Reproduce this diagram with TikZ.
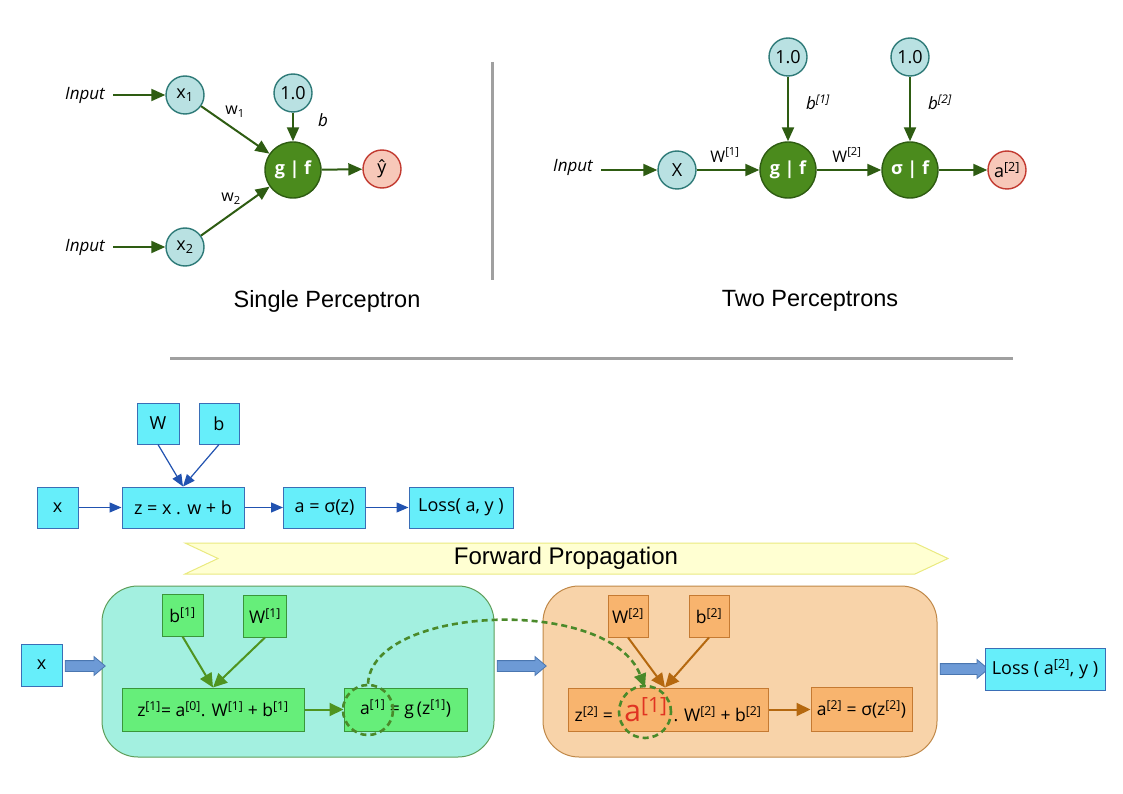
\documentclass[tikz,border=0pt]{standalone}
\usepackage{fontspec}
\usetikzlibrary{arrows.meta,shapes.arrows}
\setmainfont{Open Sans}
\newfontfamily\titlefont{Liberation Sans}
\newcommand{\spr}[1]{\textsuperscript{#1}}
\newcommand{\sbr}[1]{\textsubscript{#1}}
\newcommand{\fs}[1]{\fontsize{#1}{#1}\selectfont}

\definecolor{tealf}{HTML}{B9E1E2}
\definecolor{tealb}{HTML}{2E7A78}
\definecolor{redf}{HTML}{F7C8B9}
\definecolor{redb}{HTML}{C23A30}
\definecolor{gmid}{HTML}{4B8B1D}
\definecolor{gdark}{HTML}{2E5C12}
\definecolor{sepgray}{HTML}{A0A0A0}
\definecolor{cyanf}{HTML}{66EEFA}
\definecolor{cyanb}{HTML}{3A6EB6}
\definecolor{blarr}{HTML}{2152B0}
\definecolor{aquaf}{HTML}{A3F0E0}
\definecolor{aquab}{HTML}{5E9E5A}
\definecolor{lgreenf}{HTML}{66EE7A}
\definecolor{lgreenb}{HTML}{3A963A}
\definecolor{garrc}{HTML}{4F9420}
\definecolor{peachf}{HTML}{F8D3A9}
\definecolor{peachb}{HTML}{C08848}
\definecolor{orangef}{HTML}{F8B46E}
\definecolor{orangeb}{HTML}{C57A32}
\definecolor{oarrc}{HTML}{B5680F}
\definecolor{fatf}{HTML}{6D9AD6}
\definecolor{fatb}{HTML}{4A76B0}
\definecolor{dashg}{HTML}{4A8A2A}
\definecolor{reda}{HTML}{E03322}
\definecolor{yelf}{HTML}{FFFFD2}
\definecolor{yelb}{HTML}{EAEA80}

\tikzset{
  incirc/.style={circle, draw=tealb, fill=tealf, line width=1.4pt, minimum size=38pt, inner sep=0pt, font=\fs{18}},
  outcirc/.style={incirc, draw=redb, fill=redf},
  bigcirc/.style={circle, draw=gdark, fill=gmid, line width=1.4pt, minimum size=56pt, inner sep=0pt, text=white, font=\bfseries\fs{18}},
  netarr/.style={draw=gdark, line width=2pt, -{Triangle[length=14pt,width=12pt]}},
  inlabel/.style={font=\itshape\fs{17}},
  wlabel/.style={font=\fs{16}},
  title/.style={font=\titlefont\fs{23.5}},
  cbox/.style={draw=cyanb, fill=cyanf, line width=1pt, minimum height=41pt, inner sep=0pt, font=\fs{18}},
  barr/.style={draw=blarr, line width=1.2pt, -{Triangle[length=12pt,width=10pt]}},
  gbox/.style={draw=lgreenb, fill=lgreenf, line width=1pt, inner sep=0pt, font=\fs{17.5}},
  obox/.style={draw=orangeb, fill=orangef, line width=1pt, inner sep=0pt, font=\fs{17.5}},
  garr/.style={draw=garrc, line width=2pt, -{Triangle[length=14pt,width=13pt]}},
  oarr/.style={draw=oarrc, line width=2pt, -{Triangle[length=14pt,width=13pt]}},
  fatarrow/.style={single arrow, draw=fatb, fill=fatf, line width=0.8pt, inner xsep=0pt, inner ysep=5pt, single arrow head extend=4pt, single arrow tip angle=80},
  dashring/.style={circle, draw=dashg, line width=2.6pt, dash pattern=on 6pt off 4pt, inner sep=0pt},
}

\begin{document}
\begin{tikzpicture}[x=1pt,y=-1pt]
\useasboundingbox[fill=white] (0,0) rectangle (1123,794);

% ---------- single perceptron ----------
\node[inlabel] (in1) at (85,95) {Input};
\node[inlabel] (in2) at (85,247) {Input};
\node[incirc] (x1) at (185,95) {x\sbr{1}};
\node[incirc] (x2) at (185,247) {x\sbr{2}};
\node[incirc] (one) at (293,93) {1.0};
\node[bigcirc] (g) at (293,170) {g | f};
\node[outcirc] (yh) at (382,169) {ŷ};
\draw[netarr] (in1.east) ++(5,0) -- (x1.west);
\draw[netarr] (in2.east) ++(5,0) -- (x2.west);
\draw[netarr] (x1) -- (g);
\draw[netarr] (x2) -- (g);
\draw[netarr] (one) -- (g);
\draw[netarr] (g) -- (yh);
\node[wlabel] (lw1) at (235,112) {w\sbr{1}};
\node[wlabel] (lw2) at (231,199) {w\sbr{2}};
\node[inlabel] (lb) at (323,120) {b};

% separators
\draw[sepgray, line width=3pt] (492,62) -- (492,280);
\draw[sepgray, line width=3pt] (170,358) -- (1013,358);

% ---------- two perceptrons ----------
\node[inlabel] (in3) at (573,167) {Input};
\node[incirc] (X) at (677,170) {X};
\node[bigcirc] (g2) at (788,170) {g | f};
\node[bigcirc] (s2) at (910,170) {σ | f};
\node[outcirc] (a2c) at (1007,170) {a\spr{[2]}};
\node[incirc] (one1) at (788,57) {1.0};
\node[incirc] (one2) at (910,57) {1.0};
\draw[netarr] (in3.east |- X.west) ++(5,0) -- (X.west);
\draw[netarr] (X) -- (g2);
\draw[netarr] (g2) -- (s2);
\draw[netarr] (s2) -- (a2c);
\draw[netarr] (one1) -- (g2);
\draw[netarr] (one2) -- (s2);
\node[wlabel] (lW1) at (725,155) {W\spr{[1]}};
\node[wlabel] (lW2) at (847,155) {W\spr{[2]}};
\node[inlabel] (lb1) at (818,102) {b\spr{[1]}};
\node[inlabel] (lb2) at (940,102) {b\spr{[2]}};

\node[title] (t1) at (327,301) {Single Perceptron};
\node[title] (t2) at (810,301) {Two Perceptrons};

% ---------- computation graph ----------
\node[cbox, minimum width=42pt] (Wb) at (158,423.5) {W};
\node[cbox, minimum width=40pt] (bb) at (219,423.5) {b};
\node[cbox, minimum width=41pt] (xb) at (57.5,507.5) {x};
\node[cbox, minimum width=122pt] (zb) at (183,507.5) {z = x . w + b};
\node[cbox, minimum width=82pt] (ab) at (324.5,507.5) {a = σ(z)};
\node[cbox, minimum width=104pt] (lb0) at (461,507.5) {Loss( a, y )};
\draw[barr] (Wb.south) -- (zb.north);
\draw[barr] (bb.south) -- (zb.north);
\draw[barr] (xb) -- (zb);
\draw[barr] (zb) -- (ab);
\draw[barr] (ab) -- (lb0);

% forward propagation banner
\draw[draw=yelb, fill=yelf, line width=1pt] (185,543) -- (915,543) -- (948,558.5) -- (915,574) -- (185,574) -- (218,558.5) -- cycle;
\node[font=\titlefont\fs{24}] (fp) at (566,558) {Forward Propagation};

% ---------- two layers ----------
\node[draw=aquab, fill=aquaf, line width=1pt, rounded corners=36pt, minimum width=392pt, minimum height=171pt] (L1) at (298,671.5) {};
\node[draw=peachb, fill=peachf, line width=1pt, rounded corners=36pt, minimum width=394pt, minimum height=171pt] (L2) at (740,671.5) {};

\node[cbox, minimum width=41pt, minimum height=42pt] (xb2) at (41.5,665) {x};
\node[fatarrow, minimum height=40pt] (fa1) at (82,666) {};
\node[fatarrow, minimum height=49pt] (fa2) at (518.5,666) {};
\node[fatarrow, minimum height=48pt] (fa3) at (961,669) {};
\node[cbox, minimum width=120pt, minimum height=42pt] (loss2) at (1045,669) {Loss ( a\spr{[2]}, y )};

\node[gbox, minimum width=41pt, minimum height=42pt] (b1) at (182.5,615) {b\spr{[1]}};
\node[gbox, minimum width=43pt, minimum height=42pt] (W1) at (265,616) {W\spr{[1]}};
\node[gbox, minimum width=182pt, minimum height=43pt] (z1) at (213,709.5) {z\spr{[1]}= a\spr{[0]}. W\spr{[1]} + b\spr{[1]}};
\node[gbox, minimum width=123pt, minimum height=43pt] (a1) at (405.5,709.5) {a\spr{[1]} = g\,(z\spr{[1]})};
\draw[garr] (b1.south) -- (z1.north);
\draw[garr] (W1.south) -- (z1.north);
\draw[garr] (z1) -- (a1);

\node[obox, minimum width=40pt, minimum height=42pt] (W2) at (628,616) {W\spr{[2]}};
\node[obox, minimum width=40pt, minimum height=42pt] (b2) at (709,616) {b\spr{[2]}};
\node[obox, minimum width=200pt, minimum height=43pt] (z2) at (668,709.5) {z\spr{[2]} = \hspace{7pt}{\color{reda}\fs{30}a\spr{[1]}}\hspace{6pt}. W\spr{[2]} + b\spr{[2]}};
\node[obox, minimum width=101pt, minimum height=44pt] (a2) at (861.5,709.5) {a\spr{[2]} = σ(z\spr{[2]})};
\draw[oarr] (W2.south) -- ([xshift=-3pt]z2.north);
\draw[oarr] (b2.south) -- ([xshift=-3pt]z2.north);
\draw[oarr] (z2) -- (a2);

% a[1] carried from layer 1 into layer 2
\node[dashring, minimum size=50pt] (c1) at (368,710) {};
\node[dashring, minimum size=52pt] (c2) at (645,712) {};
\draw[dashg, line width=2.6pt, dash pattern=on 6pt off 4pt, -{Triangle[length=14pt,width=12pt]}]
  (c1.north) .. controls (372,605) and (610,595) .. ([yshift=-3pt]c2.north);
\end{tikzpicture}
\end{document}
